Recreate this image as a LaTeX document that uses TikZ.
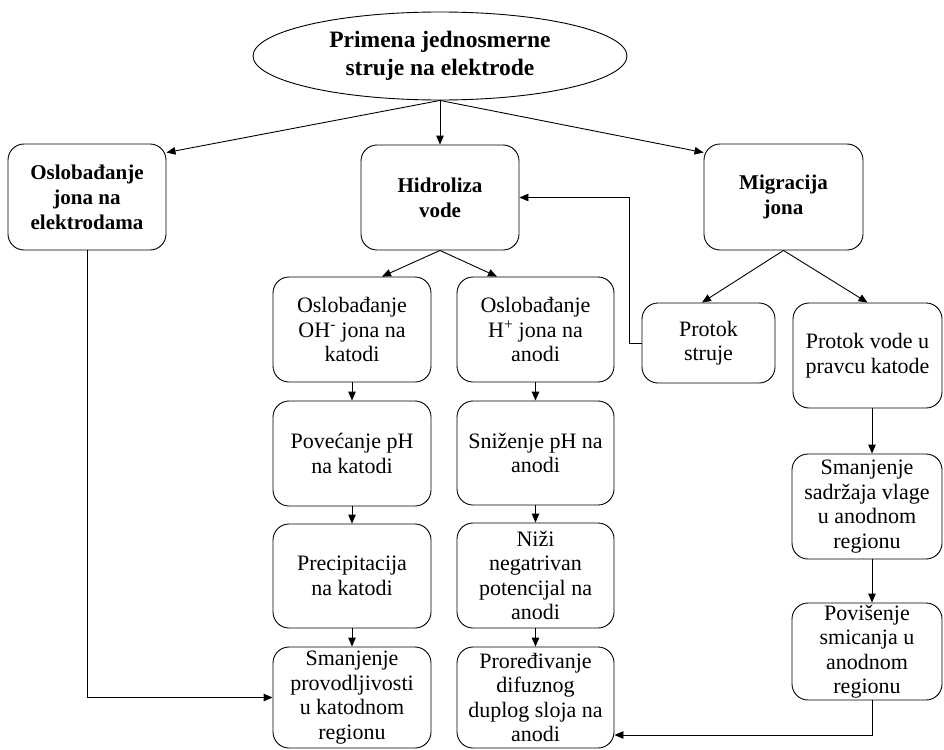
\documentclass[tikz,border=0pt]{standalone}
\usepackage{fontspec}
\setmainfont{Liberation Serif}
\usetikzlibrary{arrows.meta,shapes.geometric}
\tikzset{
  box/.style={draw, rounded corners=16pt, line width=0.9pt, align=center, inner sep=0pt,
    font=\fontsize{22}{24.5}\selectfont},
  bbox/.style={box, font=\fontsize{21}{25}\selectfont\bfseries},
  conn/.style={line width=0.9pt, -{Triangle[length=9pt,width=7.5pt]}},
}
\newcommand{\bx}[6]{\node[#1, minimum width=#4pt, minimum height=#5pt] (#6) at (#2,#3)}
\begin{document}
\begin{tikzpicture}[x=1pt,y=-1pt]
\useasboundingbox (0,0) rectangle (944,749);
\node[draw, ellipse, line width=0.9pt, inner sep=0pt, minimum width=374pt, minimum height=88pt,
  align=center, font=\fontsize{23.5}{28}\selectfont\bfseries] (ell) at (440,56) {Primena jednosmerne\\struje na elektrode};
\bx{bbox}{87}{197}{158}{106}{osl} {Oslobađanje\\jona na\\elektrodama};
\bx{bbox}{440}{197.5}{158}{105}{hid} {Hidroliza\\vode};
\bx{bbox}{783.5}{197}{159}{106}{mig} {Migracija\\jona};
\bx{box}{352}{329.5}{158}{105}{oh} {Oslobađanje\\OH\textsuperscript{-} jona na\\katodi};
\bx{box}{535.5}{329.5}{157}{105}{hp} {Oslobađanje\\H\textsuperscript{+} jona na\\anodi};
\bx{box}{352}{453.5}{158}{105}{pov} {Povećanje pH\\na katodi};
\bx{box}{535.5}{453}{157}{104}{sni} {Sniženje pH na\\anodi};
\bx{box}{352}{576}{158}{104}{pre} {Precipitacija\\na katodi};
\bx{box}{535.5}{575.5}{157}{105}{niz} {Niži\\negatrivan\\potencijal na\\anodi};
\bx{box}{352}{697.5}{158}{101}{smk} {Smanjenje\\provodljivosti\\u katodnom\\regionu};
\bx{box}{535.5}{697.5}{157}{101}{pro} {Proređivanje\\difuznog\\duplog sloja na\\anodi};
\bx{box}{708.5}{343}{133}{80}{ps} {Protok\\struje};
\bx{box}{867.5}{355.5}{149}{105}{pv} {Protok vode u\\pravcu katode};
\bx{box}{867}{506.5}{150}{105}{ss} {Smanjenje\\sadržaja vlage\\u anodnom\\regionu};
\bx{box}{867}{651.5}{150}{97}{pvs} {Povišenje\\smicanja u\\anodnom\\regionu};
% connectors
\draw[conn] (ell.south) -- (hid.north);
\draw[conn] (ell.south) -- ([yshift=-9pt]osl.north east);
\draw[conn] (ell.south) -- ([yshift=-9pt]mig.north west);
\draw[conn] (hid.south) -- ([xshift=30pt]oh.north);
\draw[conn] (hid.south) -- ([xshift=-38.5pt]hp.north);
\draw[conn] (mig.south) -- ([xshift=-6.5pt]ps.north);
\draw[conn] (mig.south) -- (pv.north);
\draw[conn] (oh) -- (pov);
\draw[conn] (pov) -- (pre);
\draw[conn] (pre) -- (smk);
\draw[conn] (hp) -- (sni);
\draw[conn] (sni) -- (niz);
\draw[conn] (niz) -- (pro);
\draw[conn] ([xshift=4.5pt]pv.south) -- ([xshift=5pt]ss.north);
\draw[conn] ([xshift=5pt]ss.south) -- ([xshift=5pt]pvs.north);
\draw[conn] ([xshift=5pt]pvs.south) |- ([yshift=-37.5pt]pro.east);
\draw[conn] (osl.south) |- (smk.west);
\draw[conn] (ps.west) -- ++(-12,0) |- (hid.east);
\end{tikzpicture}
\end{document}
